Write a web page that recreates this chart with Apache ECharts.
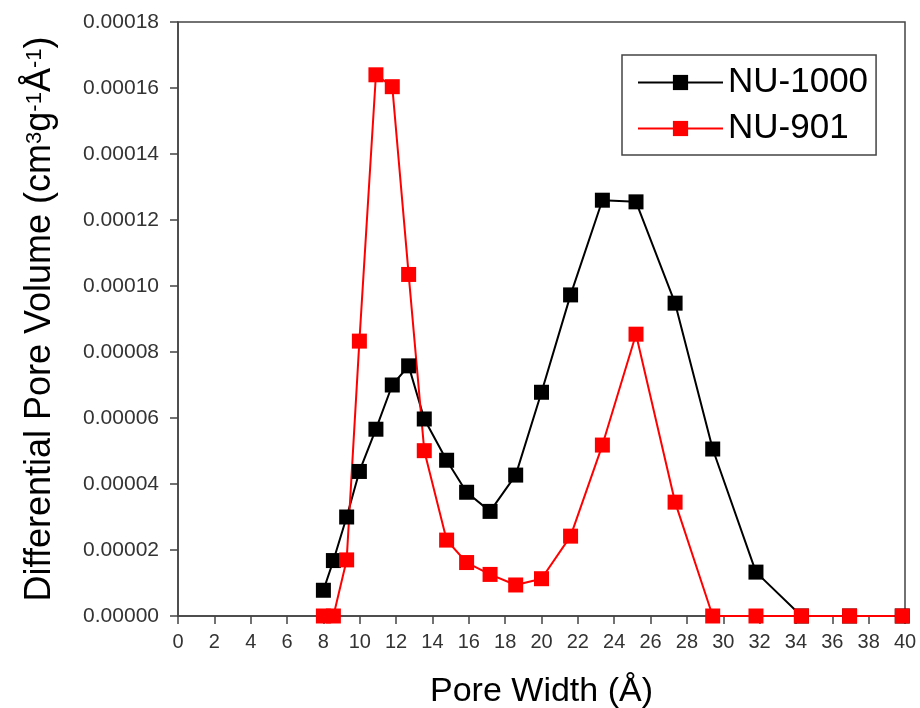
<!DOCTYPE html>
<html>
<head>
<meta charset="utf-8">
<script src="https://cdn.jsdelivr.net/npm/echarts@6/dist/echarts.min.js"></script>
<style>
  html, body { margin: 0; padding: 0; background: #fff; }
  #chart { width: 920px; height: 708px; }
</style>
</head>
<body>
<div id="chart"></div>
<script>
// pore width (Å), shared by both samples
var poreWidth = [8.0, 8.55, 9.28, 9.98, 10.89, 11.79, 12.69, 13.55, 14.78, 15.88, 17.17,
  18.58, 20.0, 21.6, 23.35, 25.2, 27.35, 29.42, 31.8, 34.3, 36.95, 39.85];
// differential pore volume, units of 1e-5 cm3 g-1 Å-1
var nu1000 = [0.78, 1.68, 3.0, 4.38, 5.66, 7.0, 7.58, 5.97, 4.72, 3.75, 3.17,
  4.27, 6.78, 9.73, 12.6, 12.55, 9.48, 5.06, 1.33, 0, 0, 0];
var nu901 = [0, 0, 1.7, 8.33, 16.4, 16.04, 10.35, 5.01, 2.3, 1.62, 1.26,
  0.94, 1.13, 2.42, 5.18, 8.54, 3.45, 0, 0, 0, 0, 0];

function pairs(ys) {
  return poreWidth.map(function (x, i) { return [x, ys[i] * 1e-5]; });
}

var chart = echarts.init(document.getElementById('chart'));
var font = 'Liberation Sans, Arial, sans-serif';

chart.setOption({
  animation: false,
  textStyle: { fontFamily: font },
  grid: {
    left: 178, right: 15, top: 22, bottom: 92,
    outerBoundsMode: 'none',
    containLabel: false,
    show: true, borderColor: '#444', borderWidth: 1.5
  },
  legend: {
    orient: 'vertical',
    left: 622, top: 55,
    padding: [10, 8, 9, 15],
    itemGap: 11,
    itemWidth: 85, itemHeight: 19,
    borderColor: '#444', borderWidth: 1.5,
    textStyle: { fontSize: 35, color: '#000', fontFamily: font },
    data: ['NU-1000', 'NU-901']
  },
  xAxis: {
    type: 'value',
    min: 0, max: 40, interval: 2,
    name: 'Pore Width (Å)',
    nameLocation: 'middle',
    nameGap: 59,
    nameTextStyle: { fontSize: 34, color: '#000', fontFamily: font },
    axisLine: { show: true, lineStyle: { color: '#444', width: 1.5 } },
    axisTick: { show: true, length: 8, lineStyle: { color: '#444', width: 1.5 } },
    axisLabel: { fontSize: 20, color: '#333', margin: 16 },
    splitLine: { show: false }
  },
  yAxis: {
    type: 'value',
    min: 0, max: 0.00018, interval: 0.00002,
    name: '{a|Differential Pore Volume (cm}{s|3}{a|g}{s|-1}{a|Å}{s|-1}{a|)}',
    nameLocation: 'middle',
    nameGap: 120,
    nameTextStyle: {
      fontSize: 36, color: '#000', fontFamily: font,
      rich: {
        a: { fontSize: 36, color: '#000', fontFamily: font },
        s: { fontSize: 22, color: '#000', fontFamily: font, verticalAlign: 'top', padding: [2, 0, 0, 0] }
      }
    },
    axisLine: { show: true, lineStyle: { color: '#444', width: 1.5 } },
    axisTick: { show: true, length: 8, lineStyle: { color: '#444', width: 1.5 } },
    axisLabel: {
      fontSize: 21, color: '#333', margin: 19,
      formatter: function (v) { return v.toFixed(5); }
    },
    splitLine: { show: false }
  },
  series: [
    {
      name: 'NU-1000',
      type: 'line',
      data: pairs(nu1000),
      symbol: 'rect',
      symbolSize: 15,
      lineStyle: { color: '#000', width: 2 },
      itemStyle: { color: '#000' }
    },
    {
      name: 'NU-901',
      type: 'line',
      data: pairs(nu901),
      symbol: 'rect',
      symbolSize: 15,
      lineStyle: { color: '#ff0000', width: 2 },
      itemStyle: { color: '#ff0000' }
    }
  ]
});
</script>
</body>
</html>
